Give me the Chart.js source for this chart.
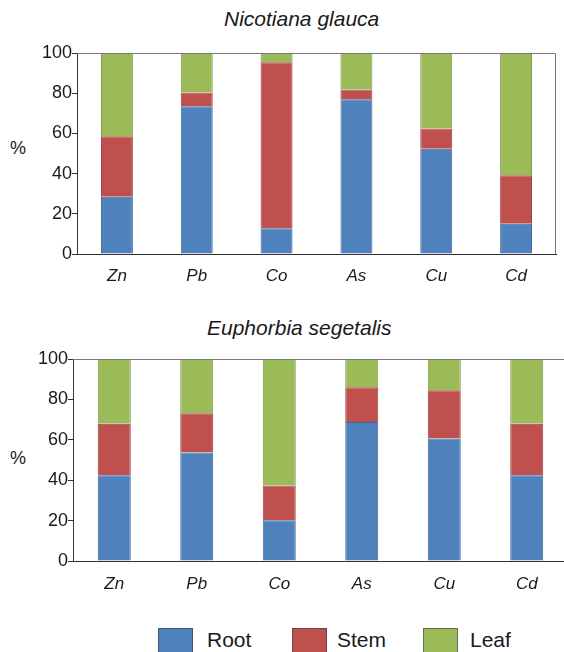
<!DOCTYPE html>
<html>
<head>
<meta charset="utf-8">
<script src="https://cdn.jsdelivr.net/npm/chart.js@4/dist/chart.umd.min.js"></script>
<style>
  html, body { margin: 0; padding: 0; background: #fff; overflow: hidden; }
  body { width: 564px; height: 652px; position: relative; font-family: "Liberation Sans", Arial, sans-serif; color: #1a1a1a; }
  canvas { position: absolute; left: 0; }
  .title { position: absolute; font-size: 21px; font-style: italic; line-height: 21px; white-space: nowrap; }
  .pct { position: absolute; left: 10px; font-size: 18px; line-height: 18px; }
  .legend { position: absolute; top: 628px; left: 0; width: 564px; height: 24px; }
  .legend .box { position: absolute; top: 0; width: 35px; height: 30px; box-sizing: border-box; border: 1px solid rgba(60,60,60,0.6); }
  .legend .lbl { position: absolute; top: 0; font-size: 21px; line-height: 24px; }
</style>
</head>
<body>
<div class="title" style="left:224px; top:8px;">Nicotiana glauca</div>
<div class="pct" style="top:139px;">%</div>
<canvas id="chartGlauca" width="564" height="300" style="top:0;"></canvas>

<div class="title" style="left:207px; top:317px;">Euphorbia segetalis</div>
<div class="pct" style="top:449px;">%</div>
<canvas id="chartSegetalis" width="572" height="310" style="top:300px;"></canvas>

<div class="legend">
  <div class="box" style="left:158px; background:#4F81BD;"></div><div class="lbl" style="left:207px;">Root</div>
  <div class="box" style="left:292px; background:#C0504D;"></div><div class="lbl" style="left:337px;">Stem</div>
  <div class="box" style="left:423px; background:#9BBB59;"></div><div class="lbl" style="left:470px;">Leaf</div>
</div>

<script>
// metals on the x axis
const metals = ["Zn", "Pb", "Co", "As", "Cu", "Cd"];

// Nicotiana glauca, % of total per organ
const glaucaRoot = [28.5, 73.5, 12.8, 77.0, 52.4, 15.1];
const glaucaStem = [30.1, 6.8, 82.6, 4.9, 10.1, 24.1];
const glaucaLeaf = [41.4, 19.7, 4.6, 18.1, 37.5, 60.8];

// Euphorbia segetalis, % of total per organ
const segetalisRoot = [42.5, 53.7, 20.2, 68.8, 60.7, 42.5];
const segetalisStem = [25.4, 19.5, 17.2, 17.2, 23.8, 25.4];
const segetalisLeaf = [32.1, 26.8, 62.6, 14.0, 15.5, 32.1];

const organs = ["Root", "Stem", "Leaf"];
const fills = ["#4F81BD", "#C0504D", "#9BBB59"];
const edges = ["#3F6896", "#98403D", "#7A9446"];

Chart.defaults.font.family = "'Liberation Sans', Arial, sans-serif";
Chart.defaults.color = "#1a1a1a";

// gray frame on top and right of the plot area
const frame = {
  id: "frame",
  afterDraw(chart) {
    const { ctx, chartArea: a } = chart;
    ctx.save();
    ctx.strokeStyle = "#777";
    ctx.lineWidth = 1;
    ctx.beginPath();
    ctx.moveTo(a.left, a.top + 0.5);
    ctx.lineTo(a.right - 0.5, a.top + 0.5);
    ctx.lineTo(a.right - 0.5, a.bottom);
    ctx.stroke();
    ctx.restore();
  }
};

function makeChart(id, series, pad, yWidth, xHeight, xPad) {
  new Chart(document.getElementById(id), {
    type: "bar",
    data: {
      labels: metals,
      datasets: series.map((vals, i) => ({
        label: organs[i],
        data: vals,
        backgroundColor: fills[i],
        borderColor: edges[i],
        borderWidth: 1,
        barPercentage: 0.4,
        categoryPercentage: 1.0
      }))
    },
    options: {
      responsive: false,
      animation: false,
      devicePixelRatio: 1,
      layout: { padding: pad },
      plugins: { legend: { display: false }, tooltip: { enabled: false } },
      scales: {
        x: {
          stacked: true,
          grid: { display: false },
          border: { display: true, color: "#333", width: 1 },
          ticks: { font: { size: 17, style: "italic" }, padding: xPad },
          afterFit: (s) => { s.height = xHeight; }
        },
        y: {
          stacked: true,
          min: 0,
          max: 100,
          grid: { drawOnChartArea: false, drawTicks: true, tickLength: 5, color: "#333" },
          border: { display: true, color: "#333", width: 1 },
          ticks: { stepSize: 20, font: { size: 18 }, padding: 0 },
          afterFit: (s) => { s.width = yWidth; }
        }
      }
    },
    plugins: [frame]
  });
}

makeChart("chartGlauca", [glaucaRoot, glaucaStem, glaucaLeaf],
  { left: 0, right: 8, top: 53, bottom: 0 }, 77, 46, 4);
makeChart("chartSegetalis", [segetalisRoot, segetalisStem, segetalisLeaf],
  { left: 0, right: 4, top: 59, bottom: 0 }, 73, 49, 5);
</script>
</body>
</html>
